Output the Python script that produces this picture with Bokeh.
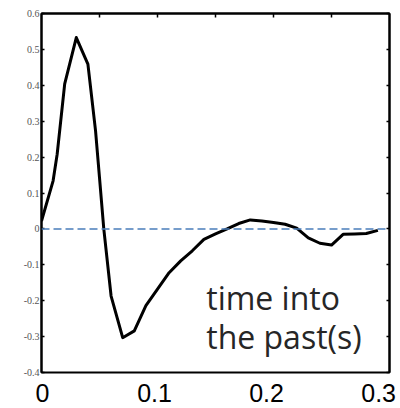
from bokeh.plotting import figure
from bokeh.models import Range1d, LinearAxis, FixedTicker, Span, Label
from bokeh.embed import file_html
from bokeh.resources import INLINE

# data: kernel value vs time into the past (s)
t = [0.0, 0.01, 0.0135, 0.02, 0.03, 0.04, 0.0466, 0.05, 0.0537, 0.06, 0.07, 0.08,
     0.09, 0.10, 0.11, 0.12, 0.13, 0.14, 0.15, 0.16, 0.17, 0.18, 0.19, 0.20,
     0.21, 0.22, 0.23, 0.24, 0.25, 0.26, 0.27, 0.28, 0.29]
k = [0.022, 0.134, 0.208, 0.404, 0.533, 0.459, 0.273, 0.143, 0.0, -0.187, -0.303, -0.284,
     -0.214, -0.168, -0.122, -0.089, -0.061, -0.029, -0.014, 0.0, 0.015, 0.025, 0.022, 0.018,
     0.013, 0.002, -0.025, -0.040, -0.045, -0.015, -0.014, -0.013, -0.004]

x_ticks = [0, 0.1, 0.2, 0.3]
x_labels = ["0", "0.1", "0.2", "0.3"]
x_minor = [0.05, 0.1, 0.15, 0.2, 0.25]
y_ticks = [-0.4, -0.3, -0.2, -0.1, 0, 0.1, 0.2, 0.3, 0.4, 0.5, 0.6]
y_labels = ["-0.4", "-0.3", "-0.2", "-0.1", "0", "0.1", "0.2", "0.3", "0.4", "0.5", "0.6"]
annotation = ["time into", "the past(s)"]

p = figure(width=400, height=408, x_range=Range1d(0, 0.3), y_range=Range1d(-0.4, 0.6),
           output_backend="svg", toolbar_location=None,
           x_axis_location=None, y_axis_location=None,
           min_border_left=41, min_border_right=11, min_border_top=13, min_border_bottom=36)
p.xgrid.visible = False
p.ygrid.visible = False
p.outline_line_color = "black"
p.outline_line_width = 2
p.background_fill_color = "white"

# label axis (tick labels were overlaid slightly offset in the original)
p.extra_x_ranges = {"lab": Range1d(-0.00089, 0.3097)}
xb = LinearAxis(x_range_name="lab", ticker=FixedTicker(ticks=x_ticks),
                major_label_overrides={v: s for v, s in zip(x_ticks, x_labels)})
xb.axis_line_color = None
xb.major_tick_line_color = None
xb.minor_tick_line_color = None
xb.major_label_text_font = "Liberation Sans"
xb.major_label_text_font_size = "25px"
xb.major_label_text_color = "black"
xb.major_label_standoff = 5
p.add_layout(xb, "below")

xt = LinearAxis(ticker=FixedTicker(ticks=x_minor),
                major_label_overrides={v: "" for v in x_minor})
xt.major_tick_in = 4
xt.major_tick_out = 0
xt.major_tick_line_width = 1.5
xt.minor_tick_line_color = None
xt.axis_line_width = 2
xt.major_label_text_font_size = "1px"
xt.major_label_standoff = 0
p.add_layout(xt, "above")

ov = {v: s for v, s in zip(y_ticks, y_labels)}
yl = LinearAxis(ticker=FixedTicker(ticks=y_ticks), major_label_overrides=ov)
yl.major_tick_in = 3
yl.major_tick_out = 0
yl.major_tick_line_width = 1.5
yl.minor_tick_line_color = None
yl.axis_line_width = 2
yl.major_label_text_font = "Liberation Sans Narrow"
yl.major_label_text_font_size = "10px"
yl.major_label_text_color = "#555555"
yl.major_label_standoff = 2
p.add_layout(yl, "left")

yr = LinearAxis(ticker=FixedTicker(ticks=y_ticks),
                major_label_overrides={v: "" for v in y_ticks})
yr.major_tick_in = 3
yr.major_tick_out = 0
yr.major_tick_line_width = 1.5
yr.minor_tick_line_color = None
yr.axis_line_width = 2
yr.major_label_text_font_size = "1px"
yr.major_label_standoff = 0
p.add_layout(yr, "right")

p.add_layout(Span(location=0, dimension="width", line_color="#4a7ebb",
                  line_width=1.5, line_dash="8 4"))

p.line(t, k, line_color="black", line_width=3, line_join="round")

p.add_layout(Label(x=0.142, y=-0.19, text=annotation[0], text_font="Open Sans",
                   text_font_size="32px", text_color="#262626", text_baseline="alphabetic"))
p.add_layout(Label(x=0.142, y=-0.301, text=annotation[1], text_font="Open Sans",
                   text_font_size="32px", text_color="#262626", text_baseline="alphabetic"))

open("out.html", "w").write(file_html(p, INLINE))
